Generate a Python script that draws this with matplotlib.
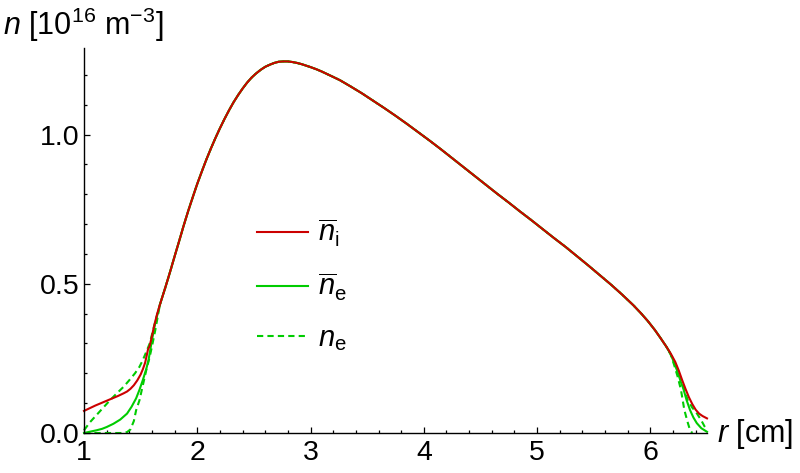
import numpy as np
import matplotlib
matplotlib.use("Agg")
import matplotlib.pyplot as plt
from matplotlib.ticker import MultipleLocator, FormatStrFormatter

plt.rcParams['font.family'] = ['Liberation Sans', 'DejaVu Sans']
plt.rcParams['mathtext.fontset'] = 'custom'
plt.rcParams['mathtext.rm'] = 'Liberation Sans'
plt.rcParams['mathtext.it'] = 'Liberation Sans:italic'

# ion density (full radial range)
r_ion = [1.00, 1.05, 1.10, 1.15, 1.20, 1.25, 1.30, 1.35, 1.38, 1.41, 1.44,
         1.47, 1.50, 1.52, 1.54, 1.555, 1.565, 1.58, 1.60, 1.62, 1.645,
         1.67, 1.72, 1.76, 1.80, 1.84, 1.88, 1.92, 1.96, 2.00, 2.04, 2.08,
         2.12, 2.16, 2.20, 2.24, 2.28, 2.32, 2.36, 2.40, 2.44, 2.48, 2.52,
         2.56, 2.60, 2.64, 2.68, 2.72, 2.76, 2.80, 2.84, 2.88, 2.92, 2.96,
         3.00, 3.05, 3.10, 3.15, 3.20, 3.26, 3.35, 3.45, 3.55, 3.65, 3.75,
         3.85, 3.95, 4.05, 4.15, 4.25, 4.35, 4.45, 4.55, 4.65, 4.75, 4.85,
         4.95, 5.05, 5.15, 5.25, 5.35, 5.45, 5.55, 5.65, 5.75, 5.85, 5.92,
         5.98, 6.04, 6.09, 6.14, 6.18, 6.22, 6.25, 6.28, 6.31, 6.34, 6.37,
         6.40, 6.43, 6.46, 6.50]
n_ion = [0.074, 0.083, 0.092, 0.100, 0.108, 0.116, 0.124, 0.133, 0.139, 0.148, 0.160,
         0.176, 0.196, 0.214, 0.236, 0.262, 0.280, 0.292, 0.325, 0.360, 0.398,
         0.430, 0.490, 0.540, 0.592, 0.643, 0.695, 0.744, 0.790, 0.835, 0.876, 0.916,
         0.953, 0.988, 1.021, 1.052, 1.081, 1.108, 1.132, 1.154, 1.174, 1.191, 1.205,
         1.217, 1.227, 1.234, 1.240, 1.244, 1.245, 1.245, 1.243, 1.240, 1.236, 1.231,
         1.226, 1.219, 1.211, 1.202, 1.193, 1.182, 1.162, 1.139, 1.114, 1.089, 1.063,
         1.036, 1.008, 0.980, 0.951, 0.921, 0.891, 0.861, 0.831, 0.801, 0.772, 0.742,
         0.713, 0.683, 0.653, 0.624, 0.593, 0.562, 0.530, 0.498, 0.464, 0.428, 0.400,
         0.374, 0.345, 0.318, 0.290, 0.266, 0.238, 0.210, 0.178, 0.148, 0.120, 0.097,
         0.078, 0.065, 0.057, 0.049]

# electron curves only differ near the walls; in between they follow n_ion
r_ebar_left = [1.00, 1.06, 1.11, 1.16, 1.20, 1.26, 1.32, 1.38, 1.42, 1.46, 1.49, 1.52, 1.55, 1.57, 1.60, 1.63]
n_ebar_left = [0.000, 0.005, 0.009, 0.014, 0.020, 0.031, 0.045, 0.065, 0.088, 0.116, 0.145, 0.178, 0.215, 0.245, 0.312, 0.370]
r_ebar_right = [6.18, 6.21, 6.24, 6.27, 6.29, 6.32, 6.35, 6.38, 6.41, 6.45, 6.50]
n_ebar_right = [0.264, 0.235, 0.205, 0.170, 0.150, 0.110, 0.077, 0.052, 0.033, 0.016, 0.004]

r_e1_left = [1.00, 1.05, 1.11, 1.17, 1.23, 1.29, 1.35, 1.40, 1.45, 1.49, 1.52, 1.55, 1.58, 1.62]
n_e1_left = [0.009, 0.035, 0.060, 0.085, 0.110, 0.133, 0.155, 0.177, 0.200, 0.222, 0.245, 0.272, 0.300, 0.360]
r_e1_right = [6.18, 6.22, 6.25, 6.29, 6.33, 6.37, 6.41, 6.45, 6.48, 6.50]
n_e1_right = [0.265, 0.232, 0.200, 0.155, 0.110, 0.085, 0.066, 0.042, 0.021, 0.010]

r_e2_left = [1.00, 1.20, 1.33, 1.38, 1.41, 1.44, 1.46, 1.49, 1.51, 1.55, 1.58, 1.60, 1.63]
n_e2_left = [0.000, 0.000, 0.000, 0.003, 0.012, 0.040, 0.076, 0.110, 0.144, 0.211, 0.255, 0.290, 0.346]
r_e2_right = [6.18, 6.21, 6.24, 6.27, 6.30, 6.33, 6.35, 6.37]
n_e2_right = [0.262, 0.228, 0.190, 0.145, 0.077, 0.035, 0.010, 0.000]

red = '#cc0000'
green = '#00cc00'

r_ion = np.array(r_ion)
n_ion = np.array(n_ion)
mid = (r_ion >= 1.665) & (r_ion <= 6.15)


def join(rl, nl, rr, nr):
    return (np.concatenate([rl, r_ion[mid], rr]),
            np.concatenate([nl, n_ion[mid], nr]))


fig = plt.figure(figsize=(8, 4.73), dpi=100)
ax = fig.add_axes([84 / 800, 1 - 433 / 473, 623 / 800, 385 / 473])

x, y = join(r_e1_left, n_e1_left, r_e1_right, n_e1_right)
l_ne, = ax.plot(x, y, color=green, lw=1.5, dashes=(3, 2), clip_on=False)
x, y = join(r_e2_left, n_e2_left, r_e2_right, n_e2_right)
ax.plot(x, y, color=green, lw=1.5, dashes=(3, 2), clip_on=False)
x, y = join(r_ebar_left, n_ebar_left, r_ebar_right, n_ebar_right)
l_nbe, = ax.plot(x, y, color=green, lw=1.5, clip_on=False)
l_nbi, = ax.plot(r_ion, n_ion, color=red, lw=1.5, clip_on=False)

ax.set_xlim(1, 6.5)
ax.set_ylim(0, 1.29)
for s in ('top', 'right'):
    ax.spines[s].set_visible(False)
for s in ('left', 'bottom'):
    ax.spines[s].set_linewidth(1.0)

ax.xaxis.set_major_locator(MultipleLocator(1))
ax.xaxis.set_minor_locator(MultipleLocator(0.2))
ax.yaxis.set_major_locator(MultipleLocator(0.5))
ax.yaxis.set_minor_locator(MultipleLocator(0.1))
ax.yaxis.set_major_formatter(FormatStrFormatter('%.1f'))
ax.tick_params(which='both', direction='in', labelsize=20.5, width=0.9)
ax.tick_params(which='major', length=4.5)
ax.tick_params(which='minor', length=2.5)
ax.tick_params(axis='y', pad=3)
ax.tick_params(axis='x', pad=5)

ax.legend([l_nbi, l_nbe, l_ne],
          [r'$\overline{n}_\mathrm{i}$', r'$\overline{n}_\mathrm{e}$', r'$n_\mathrm{e}$'],
          frameon=False, fontsize=21, handlelength=1.75, handletextpad=0.35,
          labelspacing=0.75, borderpad=0, borderaxespad=0, loc='center left',
          bbox_to_anchor=(257 / 800, 1 - 285 / 473), bbox_transform=fig.transFigure)

fig.text(3 / 800, 1 - 25 / 473, r'$n$ [10$^{16}$ m$^{-3}$]', fontsize=22,
         ha='left', va='center')
fig.text(717 / 800, 1 - 434 / 473, r'$r$ [cm]', fontsize=22, ha='left', va='center')

fig.savefig('out.png', dpi=100)
